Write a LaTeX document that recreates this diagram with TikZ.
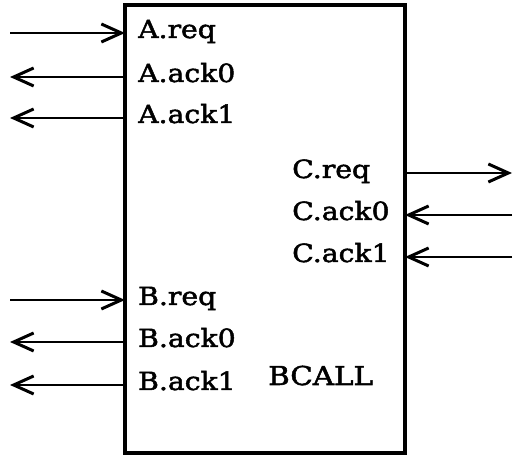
\documentclass[tikz,border=0pt]{standalone}
\usepackage{fontspec}
\setmainfont{DejaVu Serif}[FakeStretch=1.13,FakeBold=2]
\usetikzlibrary{arrows.meta}

\begin{document}
\begin{tikzpicture}[x=1pt,y=1pt,
blk/.style={rectangle,draw,line width=3.4pt,minimum width=280pt,minimum height=448pt,inner sep=0pt},
sig/.style={anchor=base west,inner sep=0pt,font=\fontsize{25}{25}\selectfont},
wire/.style={line width=2.8pt,-{Straight Barb[length=20pt,width=18pt,line width=3pt]}}]
\useasboundingbox (0,0) rectangle (514,457);
\node[blk](bcall) at (265,228){};
% channel A
\node[sig](areq) at (138,419){A.req};
\node[sig](aack0) at (138,375){A.ack0};
\node[sig](aack1) at (138,334){A.ack1};
% channel C
\node[sig](creq) at (292,279){C.req};
\node[sig](cack0) at (292,237){C.ack0};
\node[sig](cack1) at (292,195){C.ack1};
% channel B
\node[sig](breq) at (138,152){B.req};
\node[sig](back0) at (138,110){B.ack0};
\node[sig](back1) at (138,67){B.ack1};
\node[sig,font=\fontsize{26}{26}\selectfont](name) at (268,72){BCALL};
% port ends
\coordinate (a0) at (10,424); \coordinate (a0p) at (125,424);
\coordinate (a1) at (10,380); \coordinate (a1p) at (125,380);
\coordinate (a2) at (10,339); \coordinate (a2p) at (125,339);
\coordinate (c0) at (512,284); \coordinate (c0p) at (405,284);
\coordinate (c1) at (512,242); \coordinate (c1p) at (405,242);
\coordinate (c2) at (512,200); \coordinate (c2p) at (405,200);
\coordinate (b0) at (10,157); \coordinate (b0p) at (125,157);
\coordinate (b1) at (10,115); \coordinate (b1p) at (125,115);
\coordinate (b2) at (10,72); \coordinate (b2p) at (125,72);
\draw[wire](a0)--(a0p);
\draw[wire](a1p)--(a1);
\draw[wire](a2p)--(a2);
\draw[wire](c0p)--(c0);
\draw[wire](c1)--(c1p);
\draw[wire](c2)--(c2p);
\draw[wire](b0)--(b0p);
\draw[wire](b1p)--(b1);
\draw[wire](b2p)--(b2);
\end{tikzpicture}
\end{document}
